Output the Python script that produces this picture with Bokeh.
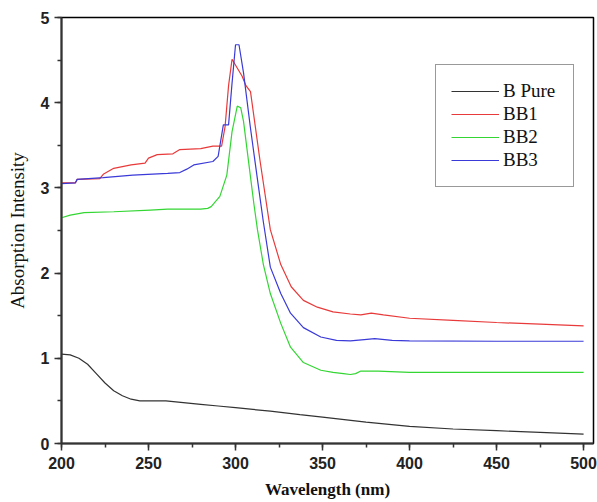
from bokeh.plotting import figure
from bokeh.models import Range1d, SingleIntervalTicker, Legend, LegendItem
from bokeh.embed import file_html
from bokeh.resources import INLINE

# ---- data ----
wl_pure = [200, 205, 210, 215, 220, 225, 230, 235, 240, 245, 250, 260, 270, 280, 290,
           300, 310, 320, 337, 350, 375, 400, 425, 450, 475, 500]
pure = [1.05, 1.04, 1.00, 0.93, 0.82, 0.71, 0.62, 0.56, 0.52, 0.50, 0.50, 0.50, 0.48, 0.46, 0.44,
        0.42, 0.40, 0.38, 0.34, 0.31, 0.25, 0.20, 0.17, 0.15, 0.13, 0.11]

wl_bb1 = [200, 208, 209, 222, 224, 230, 240, 248, 250, 255, 264, 268, 280, 287, 292, 294,
          296, 298, 303.8, 306, 308.6, 314, 320, 326, 332, 339, 347, 356, 366, 372, 378,
          385, 400, 425, 450, 475, 500]
bb1 = [3.06, 3.06, 3.10, 3.11, 3.16, 3.23, 3.27, 3.29, 3.35, 3.39, 3.40, 3.45, 3.46, 3.49, 3.49, 3.72,
       4.20, 4.51, 4.31, 4.20, 4.13, 3.33, 2.51, 2.10, 1.84, 1.68, 1.60, 1.545, 1.52, 1.51, 1.53,
       1.51, 1.47, 1.445, 1.42, 1.40, 1.38]

wl_bb2 = [200, 205, 213, 230, 251, 261, 280, 284, 286, 291, 295, 298, 301, 303, 304.6, 307.6,
          310.5, 312.6, 316, 320, 326, 331.6, 339, 349, 356, 362, 366, 369, 372, 382, 400, 450, 500]
bb2 = [2.65, 2.68, 2.71, 2.72, 2.74, 2.75, 2.75, 2.76, 2.78, 2.90, 3.15, 3.66, 3.96, 3.94, 3.78, 3.29,
       2.82, 2.51, 2.10, 1.76, 1.41, 1.13, 0.95, 0.86, 0.835, 0.82, 0.81, 0.82, 0.85, 0.85, 0.835, 0.835, 0.835]

wl_bb3 = [200, 208, 209, 224, 241, 261, 268, 272, 276, 287, 290, 293, 296, 298, 300, 302,
          304.6, 308.6, 312.6, 316, 320, 326, 331.6, 339, 349, 358, 366, 374, 380, 390, 400, 450, 500]
bb3 = [3.05, 3.06, 3.10, 3.12, 3.15, 3.17, 3.18, 3.22, 3.27, 3.31, 3.37, 3.74, 3.74, 4.23, 4.68, 4.68,
       4.35, 3.70, 3.10, 2.60, 2.07, 1.76, 1.53, 1.36, 1.25, 1.21, 1.205, 1.22, 1.23, 1.21, 1.205, 1.20, 1.20]

series_names = ["B Pure", "BB1", "BB2", "BB3"]
x_ticks_interval = 50
y_ticks_interval = 1

colors = ["#333333", "#e83a3a", "#33d633", "#3a3ad8"]

p = figure(width=597, height=502, output_backend="svg", toolbar_location=None,
           x_range=Range1d(200, 505.7), y_range=Range1d(0, 5.0),
           min_border_left=61, min_border_right=4, min_border_top=17, min_border_bottom=59)

p.background_fill_color = "white"
p.border_fill_color = "white"
p.outline_line_color = "black"
p.outline_line_width = 1.5
p.xgrid.visible = False
p.ygrid.visible = False

p.xaxis.ticker = SingleIntervalTicker(interval=x_ticks_interval, num_minor_ticks=2)
p.yaxis.ticker = SingleIntervalTicker(interval=y_ticks_interval, num_minor_ticks=2)

for ax in (p.xaxis, p.yaxis):
    ax.axis_line_width = 2
    ax.axis_line_color = "#333333"
    ax.major_tick_line_color = "#333333"
    ax.minor_tick_line_color = "#333333"
    ax.major_tick_line_width = 1.5
    ax.minor_tick_line_width = 1.5
    ax.major_tick_in = 0
    ax.minor_tick_in = 0
    ax.major_tick_out = 7
    ax.minor_tick_out = 4
    ax.major_label_text_font = "Liberation Sans"
    ax.major_label_text_font_size = "16px"
    ax.major_label_text_font_style = "bold"
    ax.major_label_text_color = "#222222"
    ax.axis_label_text_font = "Liberation Serif"
    ax.axis_label_text_color = "#111111"

p.xaxis.major_label_standoff = 6
p.yaxis.major_label_standoff = 5
p.xaxis.axis_label = "Wavelength (nm)"
p.xaxis.axis_label_text_font_size = "17px"
p.xaxis.axis_label_text_font_style = "bold"
p.xaxis.axis_label_standoff = 8
p.yaxis.axis_label = "Absorption Intensity"
p.yaxis.axis_label_text_font_size = "19px"
p.yaxis.axis_label_text_font_style = "normal"
p.yaxis.axis_label_standoff = 10

data = [(wl_pure, pure), (wl_bb1, bb1), (wl_bb2, bb2), (wl_bb3, bb3)]
renderers = []
for (xs, ys), c in zip(data, colors):
    renderers.append(p.line(xs, ys, line_color=c, line_width=1.2))

# legend frame: a single empty, invisible entry sized like the four stacked entries
ghost = p.line([], [], line_alpha=0)
box_x, box_y, pad, pitch, row_h, gap = 374, 256, 16, 23, 20, 3
inner_h = 4 * row_h + 3 * gap
box = Legend(items=[LegendItem(label="", renderers=[ghost])],
             location=(box_x, box_y), border_line_color="#333333", border_line_width=1.2,
             background_fill_color="white", background_fill_alpha=1,
             glyph_width=48, glyph_height=inner_h, label_width=53, label_height=inner_h,
             label_standoff=4, padding=pad, margin=0, label_text_font_size="19px")
p.add_layout(box)

# one single-entry legend per series, stacked inside the frame
box_top = box_y + 2 * pad + inner_h
for j, (name, r) in enumerate(zip(series_names, renderers)):
    lg = Legend(items=[LegendItem(label=name, renderers=[r])],
                location=(box_x + pad, box_top - pad - pitch * j - row_h),
                border_line_alpha=0, background_fill_alpha=0,
                label_text_font="Liberation Serif", label_text_font_size="19px",
                label_text_color="#111111",
                glyph_width=48, glyph_height=row_h, label_height=row_h, label_standoff=4,
                padding=0, margin=0)
    p.add_layout(lg)

open("out.html", "w").write(file_html(p, INLINE))
